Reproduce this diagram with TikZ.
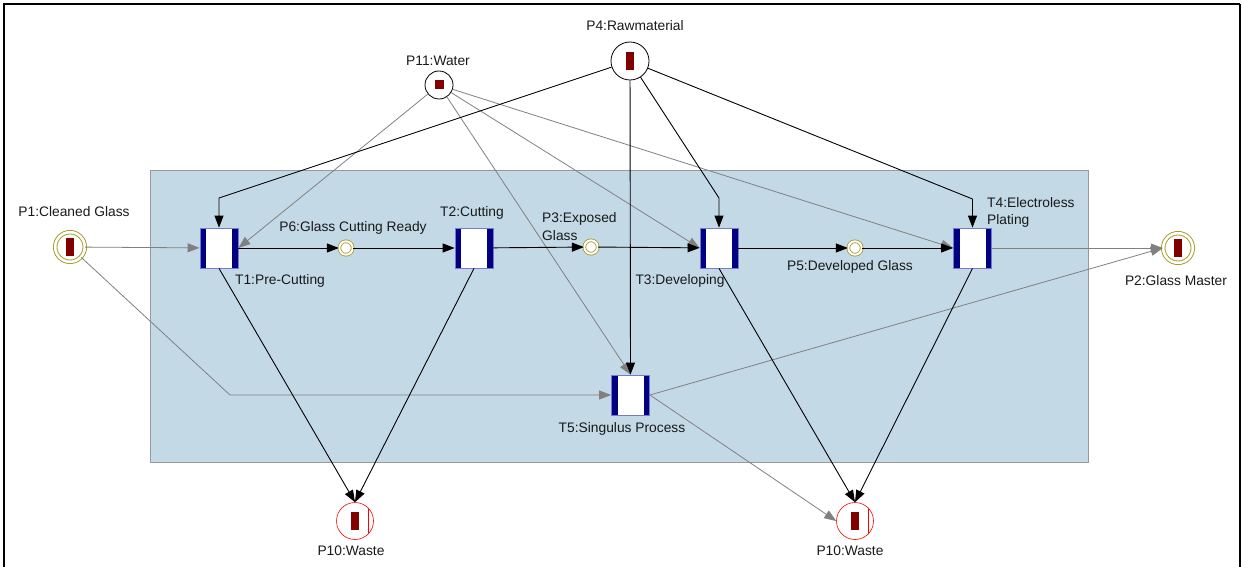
\documentclass[tikz,border=0pt]{standalone}
\usepackage{fontspec}
\setmainfont{Liberation Sans}
\usepackage{tikz}
\usetikzlibrary{arrows.meta}
\usepackage{xcolor}
\definecolor{netblue}{RGB}{196,217,230}
\definecolor{barnavy}{RGB}{0,0,128}
\definecolor{edgeblue}{RGB}{120,120,205}
\definecolor{tokenred}{RGB}{128,0,0}
\definecolor{placeolive}{RGB}{165,150,30}
\definecolor{arcgrey}{RGB}{128,128,128}
\definecolor{wastered}{RGB}{255,0,0}

\tikzset{
  trans/.style={rectangle, fill=white, draw=edgeblue, line width=0.8pt,
    minimum width=38pt, minimum height=40pt, inner sep=0pt,
    path picture={
      \fill[barnavy] (path picture bounding box.south west)
        rectangle ([xshift=6pt]path picture bounding box.north west);
      \fill[barnavy] (path picture bounding box.south east)
        rectangle ([xshift=-6pt]path picture bounding box.north east);}},
  token/.style={path picture={
      \fill[tokenred] ([xshift=-4pt,yshift=-9pt]path picture bounding box.center)
        rectangle ([xshift=4pt,yshift=9pt]path picture bounding box.center);}},
  endplace/.style={circle, draw=placeolive, line width=0.9pt, double=white,
    double distance=2.6pt, fill=white, minimum size=29.6pt, inner sep=0pt, token},
  midplace/.style={circle, draw=placeolive, line width=0.8pt, double=white,
    double distance=2pt, fill=white, minimum size=13.4pt, inner sep=0pt},
  rawplace/.style={circle, draw=black, line width=0.8pt, fill=white,
    minimum size=38pt, inner sep=0pt, token},
  waterplace/.style={circle, draw=black, line width=0.8pt, fill=white,
    minimum size=28pt, inner sep=0pt,
    path picture={
      \fill[tokenred] ([xshift=-4.5pt,yshift=-4.5pt]path picture bounding box.center)
        rectangle ([xshift=4.5pt,yshift=4.5pt]path picture bounding box.center);}},
  wasteplace/.style={circle, draw=wastered, line width=0.6pt, fill=white,
    minimum size=37pt, inner sep=0pt,
    path picture={
      \fill[tokenred] ([xshift=-4pt,yshift=-9pt]path picture bounding box.center)
        rectangle ([xshift=4pt,yshift=9pt]path picture bounding box.center);
      \draw[wastered, line width=0.6pt] ([xshift=13pt,yshift=-12pt]path picture bounding box.center)
        -- ([xshift=13pt,yshift=12pt]path picture bounding box.center);}},
  lbl/.style={inner sep=0pt, text=black!90},
  blk/.style={-{Triangle[length=12pt,width=9pt]}, black, line width=0.9pt},
  gry/.style={-{Triangle[length=12pt,width=9pt]}, arcgrey, line width=0.8pt}
}

\begin{document}
\begin{tikzpicture}[x=1pt, y=-1pt, font=\fontsize{13.8}{17.5}\selectfont]
        \useasboundingbox (0,0) rectangle (1242,567);
        % Frame
        \draw[line width=2.6pt] (4,580) -- (4,4) -- (1240,4);
        \draw[line width=1.5pt] (1240,4) -- (1240,580);
        % Process area
        \filldraw[fill=netblue, draw=gray!80, line width=0.6pt]
          (150,170) rectangle (1088,462);
        % Places
        \node[endplace] (P1) at (70,247) {};
        \node[midplace] (P6) at (346,248) {};
        \node[midplace] (P3) at (591,247) {};
        \node[midplace] (P5) at (855,248) {};
        \node[endplace] (P2) at (1178,248) {};
        \node[waterplace] (P11) at (439,85) {};
        \node[rawplace] (P4) at (630,61) {};
        \node[wasteplace] (P10a) at (355,521) {};
        \node[wasteplace] (P10b) at (855,521) {};
        % Transitions
        \node[trans] (T1) at (219,248) {};
        \node[trans] (T2) at (474,248) {};
        \node[trans] (T3) at (719,248) {};
        \node[trans] (T4) at (972.5,248) {};
        \node[trans] (T5) at (630.5,395) {};
        % Labels
        \node[lbl] (P1l) at (74,212) {P1:Cleaned Glass};
        \node[lbl] (P6l) at (353,228) {P6:Glass Cutting Ready};
        \node[lbl, anchor=west, align=left] (P3l) at (542,226.5) {P3:Exposed\\Glass};
        \node[lbl] (P5l) at (850,267) {P5:Developed Glass};
        \node[lbl] (P2l) at (1176,281) {P2:Glass Master};
        \node[lbl] (P11l) at (438,61) {P11:Water};
        \node[lbl] (P4l) at (635,26) {P4:Rawmaterial};
        \node[lbl] (P10al) at (351,550.5) {P10:Waste};
        \node[lbl] (P10bl) at (850,550.5) {P10:Waste};
        \node[lbl] (T1l) at (280,281) {T1:Pre-Cutting};
        \node[lbl] (T2l) at (472,213) {T2:Cutting};
        \node[lbl] (T3l) at (680,281) {T3:Developing};
        \node[lbl, anchor=west, align=left] (T4l) at (987,212.5) {T4:Electroless\\Plating};
        \node[lbl] (T5l) at (622,429) {T5:Singulus Process};
        % Bends
        \coordinate (k1) at (219,198);
        \coordinate (k3) at (719,198);
        \coordinate (k4) at (972.5,199);
        \coordinate (k5) at (230,395);
        % Grey arcs
        \draw[gry] (P1) -- (T1);
        \draw[gry] (P1) -- (k5) -- (T5.west);
        \draw[gry] (P11) -- (T1.east);
        \draw[gry] (P11) -- (T3.west);
        \draw[gry] (P11) -- (T4.west);
        \draw[gry] (P11) -- (T5.north);
        \draw[gry] (T4) -- (P2.west);
        \draw[gry] (T5.east) -- (P2.west);
        \draw[gry] (T5.east) -- (P10b.west);
        % Black arcs
        \foreach \a/\b in {T1/P6,P6/T2,T2/P3,P3/T3,T3/P5,P5/T4}{
          \draw[blk] (\a) -- (\b);
        }
        \draw[blk] (P4) -- (k1) -- (T1);
        \draw[blk] (P4) -- (k3) -- (T3);
        \draw[blk] (P4) -- (k4) -- (T4);
        \draw[blk] (P4) -- (T5.north);
        \draw[blk] (T1.south) -- (P10a.north);
        \draw[blk] (T2.south) -- (P10a.north);
        \draw[blk] (T3.south) -- (P10b.north);
        \draw[blk] (T4.south) -- (P10b.north);
      \end{tikzpicture}
\end{document}
